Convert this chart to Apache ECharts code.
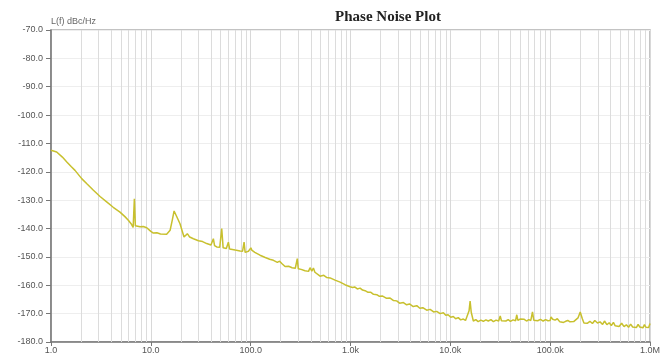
<!DOCTYPE html>
<html>
<head>
<meta charset="utf-8">
<script src="https://cdn.jsdelivr.net/npm/echarts@6/dist/echarts.min.js"></script>
<style>html,body{margin:0;padding:0;background:#fff;}#c{width:668px;height:360px;}</style>
</head>
<body>
<div id="c"></div>
<script>
const titleText = 'Phase Noise Plot';
const yAxisName = 'L(f) dBc/Hz';
const freq = [1.0,1.14,1.3,1.44,1.6,1.74,2.03,2.3,2.66,3.1,3.61,4.2,4.91,5.5,5.95,6.4,6.65,6.84,7.0,7.2,7.8,8.4,9.1,10.0,10.6,11.5,12.5,14.4,15.6,16.4,17.1,18.0,19.6,21.5,23.2,24.5,26.7,30,33,36.3,40,42.3,43.5,45.7,49,51.3,53,54.3,57,59.8,61.5,64.4,70,78.3,83,85.9,88,89.9,95,98.6,100.5,102.6,110,124,140,155,169,176,185,195,205,221,240,260,280,293,300,320,350,380,393,410,425,440,459,496,540,580,625,700,787,880,
991,1050,1100,1170,1248,1320,1400,1500,1600,1700,1833,1950,2100,2300,2494,2700,2900,3100,3390,3650,3900,4250,4613,4950,5300,5800,6279,6800,7300,7900,8515,9000,9500,10100,10712,11300,12000,12700,13500,14200,14800,15400,15780,16200,17000,18000,19000,20200,21400,22700,24000,25500,27000,28700,30500,31600,32500,34000,36000,38000,40000,42500,45000,46300,47500,50000,52000,55000,58000,61000,64000,66500,68500,71000,75000,80000,85000,90000,95000,99800,
102000,106000,112000,118000,125000,130000,136000,143000,150000,158000,165000,172000,180000,190000,200000,210000,218000,225000,235000,250000,265000,280000,298000,316000,335000,350000,370000,390000,410000,430000,448000,465000,490000,520000,550000,580000,610000,640000,670000,700000,730000,760000,790000,820000,850000,880000,910000,940000,970000,1000000];
const level = [-112.4,-113.0,-114.8,-116.5,-118.2,-119.5,-122.4,-124.3,-126.5,-128.7,-130.6,-132.5,-134.2,-135.8,-137.1,-138.5,-139.6,-129.5,-139.0,-139.2,-139.4,-139.3,-139.7,-141.0,-141.6,-141.5,-141.9,-142.0,-140.6,-137.0,-133.8,-135.5,-138.3,-143.0,-141.8,-143.0,-143.6,-144.3,-144.6,-145.3,-145.8,-143.6,-146.0,-146.5,-146.6,-140.0,-146.8,-147.1,-147.0,-144.8,-147.2,-147.4,-147.6,-147.9,-148.0,-144.8,-148.4,-148.6,-148.0,-147.9,-146.8,-147.6,-148.4,-149.4,-150.2,-150.8,-151.2,-151.0,-151.9,-151.5,-152.3,-153.4,-153.3,-153.8,-154.0,-150.6,-154.2,-154.4,-154.9,-155.1,-153.8,-155.0,-153.9,-155.4,-155.0,-156.8,-156.5,-157.3,-157.4,-158.2,-158.9,-159.8,
-160.5,-160.8,-160.6,-161.3,-161.0,-161.7,-161.9,-162.5,-162.5,-163.2,-163.3,-163.9,-163.8,-164.6,-164.5,-165.4,-165.5,-166.3,-166.1,-166.9,-166.6,-167.5,-167.2,-168.1,-167.9,-168.8,-168.5,-169.4,-169.2,-170.0,-169.7,-170.6,-170.4,-171.3,-171.0,-171.8,-171.4,-172.2,-171.9,-172.4,-172.0,-169.0,-165.6,-169.5,-172.6,-172.1,-172.8,-172.3,-172.7,-172.2,-172.6,-172.1,-172.8,-172.3,-172.6,-170.8,-172.5,-172.0,-172.6,-172.1,-172.7,-172.2,-172.5,-170.4,-172.4,-171.9,-172.5,-172.0,-172.6,-172.1,-172.4,-169.4,-172.3,-171.8,-172.5,-172.0,-172.6,-172.1,-172.5,-172.4,
-171.2,-172.0,-172.3,-171.8,-172.9,-172.6,-173.1,-172.7,-172.4,-172.9,-172.3,-172.8,-172.6,-171.5,-169.4,-171.8,-173.3,-172.8,-173.4,-172.7,-173.5,-172.4,-173.3,-172.9,-173.8,-172.6,-173.9,-173.2,-174.2,-173.1,-174.3,-173.7,-174.5,-173.4,-174.6,-173.9,-174.8,-173.7,-174.7,-174.0,-174.9,-173.8,-174.7,-174.1,-175.0,-173.9,-174.8,-174.2,-174.9,-173.5];
const xTickLabels = {1:'1.0',10:'10.0',100:'100.0',1000:'1.0k',10000:'10.0k',100000:'100.0k',1000000:'1.0M'};
const decades = [1,10,100,1000,10000,100000];
const multipliers = [2,3,4,5,6,7,8,9];

const vLines = [];
decades.forEach(d => multipliers.forEach(m => vLines.push({xAxis: d*m})));

const chart = echarts.init(document.getElementById('c'), null, {renderer:'canvas'});
chart.setOption({
  animation:false,
  backgroundColor:'#fff',
  title:{text:titleText,left:383,top:5,textAlign:'center',
    textStyle:{fontFamily:'Liberation Serif',fontWeight:'bold',fontSize:15,color:'#222'}},
  grid:{left:51,right:18,top:30,bottom:18,show:true,borderColor:'#b0b0b0',borderWidth:1.5,containLabel:false},
  xAxis:{type:'log',logBase:10,min:1,max:1000000,splitNumber:6,
    axisLine:{lineStyle:{color:'#777',width:1.5}},
    axisTick:{show:true,length:4,lineStyle:{color:'#777'}},
    axisLabel:{margin:4,fontSize:9,color:'#555',fontFamily:'Liberation Sans',
      formatter:v=>xTickLabels[Math.round(v)]||''},
    splitLine:{show:true,lineStyle:{color:'#d8d8d8',width:1}}},
  yAxis:{type:'value',min:-180,max:-70,interval:10,
    name:yAxisName,nameLocation:'end',nameGap:4,
    nameTextStyle:{fontSize:9,color:'#666',align:'left',padding:[0,0,0,0],fontFamily:'Liberation Sans'},
    axisLine:{show:true,lineStyle:{color:'#777',width:1.5}},
    axisTick:{show:true,length:5,lineStyle:{color:'#777'}},
    axisLabel:{margin:8,fontSize:9,color:'#555',fontFamily:'Liberation Sans',formatter:v=>v.toFixed(1)},
    splitLine:{show:true,lineStyle:{color:'#eeeeee',width:1}}},
  series:[
    {type:'line',data:[],silent:true,
     markLine:{silent:true,symbol:['none','none'],label:{show:false},animation:false,
       lineStyle:{color:'#dcdcdc',width:1,type:'solid'},data:vLines}},
    {type:'line',data:freq.map((f,i)=>[f,level[i]]),showSymbol:false,symbol:'none',
     lineStyle:{color:'#c8c02e',width:1.5},z:5}
  ]
});
</script>
</body>
</html>
